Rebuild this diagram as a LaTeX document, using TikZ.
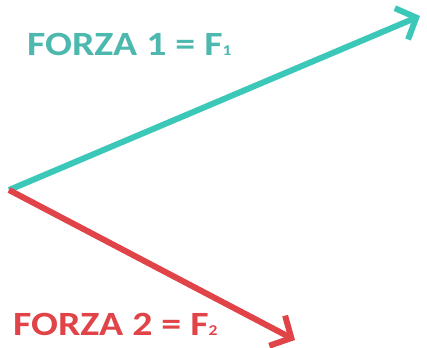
\documentclass[tikz,border=0pt]{standalone}
\usepackage{fontspec}
\usepackage{graphicx}
\setmainfont{Carlito}
\usetikzlibrary{arrows.meta}
\definecolor{tealc}{HTML}{3CC8B8}
\definecolor{tealt}{HTML}{4CB8AE}
\definecolor{redc}{HTML}{E04448}
\newcommand{\lowsub}[1]{{\fontsize{15}{15}\selectfont #1}}
\newcommand{\widetext}[1]{\scalebox{1.17}[1]{#1}}
\begin{document}
\begin{tikzpicture}[x=1pt,y=1pt,
  vec/.style={line width=6pt,-{Straight Barb[length=16pt,width=34pt,line width=6pt]}},
  lbl/.style={anchor=base west,inner sep=0pt,font=\bfseries\fontsize{34}{34}\selectfont}]
\useasboundingbox (0,0) rectangle (427,347);
\coordinate (o) at (9,157);
\coordinate (t1) at (420,331);
\coordinate (t2) at (295,7);
\draw[vec,tealc] (o) -- (t1);
\draw[vec,redc] (o) -- (t2);
\node[lbl,text=tealt] (l1) at (27,291) {\widetext{FORZA 1 = F\lowsub{1}}};
\node[lbl,text=redc] (l2) at (13,12) {\widetext{FORZA 2 = F\lowsub{2}}};
\end{tikzpicture}
\end{document}
